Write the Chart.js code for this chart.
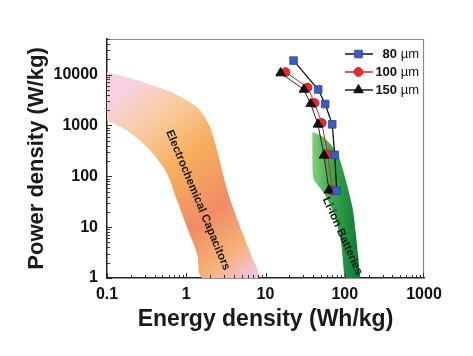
<!DOCTYPE html>
<html><head><meta charset="utf-8">
<script src="https://cdn.jsdelivr.net/npm/chart.js@4"></script>
<style>html,body{margin:0;padding:0;background:#fff}#wrap{width:473px;height:356px}</style>
</head><body><div id="wrap"><canvas id="c" width="473" height="356"></canvas></div>
<script>
// ---- tick labels ----
const xTickValues = [0.1, 1, 10, 100, 1000];
const yTickValues = [1, 10, 100, 1000, 10000];

// ---- measured series ----
const seriesLabels = ['80 µm', '100 µm', '150 µm'];
const energy80 = [22.6, 46.2, 56.6, 69.5, 74.7, 79.2];
const power80 = [18800, 5080, 2640, 1050, 264, 52];
const energy100 = [17.9, 34, 41.7, 51.2, 61, 69.5];
const power100 = [11200, 5560, 2760, 1120, 270, 53];
const energy150 = [15.5, 30.5, 37.2, 45.9, 54.7, 63.2];
const power150 = [10700, 5080, 2660, 1050, 258, 53];

// ---- region outlines (Ragone zones) ----
const capUpperE = [0.1, 0.215, 0.57, 1.02, 1.5, 2.0, 2.45, 2.97, 3.6, 4.8, 6.5, 8.0];
const capUpperP = [11100, 8200, 4850, 3100, 1970, 930, 320, 97, 34, 10, 3.0, 1];
const capLowerE = [0.1, 0.177, 0.35, 0.57, 0.76, 1.02, 1.37, 1.6];
const capLowerP = [1250, 800, 324, 113, 34, 10, 3.0, 1];
const liRightE = [39, 54, 81, 103, 125, 138, 152, 155];
const liRightP = [740, 590, 279, 84, 25, 7.5, 1.66, 1];
const liLeftE = [39, 39.5, 41, 55, 73, 89, 98, 100];
const liLeftP = [206, 110, 84, 46, 18.6, 5.6, 1.24, 1];

const regionLabels = ['Electrochemical Capacitors', 'Li-ion Batteries'];
const regionLabelE = [1.4, 93.5];
const regionLabelP = [34, 6.7];

const FONT = "'Liberation Sans', Arial, sans-serif";

function pts(es, ps) { return es.map((e, i) => ({x: e, y: ps[i]})); }
function polygon(upE, upP, loE, loP) {
  return pts(upE, upP).concat(pts(loE.slice().reverse(), loP.slice().reverse()));
}

function capGradient(ctx) {
  const ch = ctx.chart; if (!ch.chartArea) return '#f6b062';
  const xs = ch.scales.x, ys = ch.scales.y;
  const g = ch.ctx.createLinearGradient(xs.getPixelForValue(0.1), ys.getPixelForValue(3000),
                                        xs.getPixelForValue(6), ys.getPixelForValue(1));
  g.addColorStop(0, '#f6d2e4');
  g.addColorStop(0.2, '#f9cba0');
  g.addColorStop(0.42, '#f6ad5c');
  g.addColorStop(0.68, '#f08c66');
  g.addColorStop(0.86, '#f5b076');
  g.addColorStop(1, '#f3c2d6');
  return g;
}
function liGradient(ctx) {
  const ch = ctx.chart; if (!ch.chartArea) return '#3a9a48';
  const xs = ch.scales.x;
  const g = ch.ctx.createLinearGradient(xs.getPixelForValue(39), 0, xs.getPixelForValue(150), 0);
  g.addColorStop(0, '#86cf7e');
  g.addColorStop(0.4, '#3ea84c');
  g.addColorStop(1, '#0c7c34');
  return g;
}

const styles = [
  {color: '#3b5cc0', border: '#2a4598', shape: 'rect', r: 5.4, line: '#111', lw: 1.3},
  {color: '#e52a2a', border: '#b01818', shape: 'circle', r: 4.4, line: '#d22', lw: 1},
  {color: '#111111', border: '#000', shape: 'triangle', r: 5.6, line: '#222', lw: 1}
];

function seriesDataset(i, es, ps, order) {
  const s = styles[i];
  return {
    label: seriesLabels[i], data: pts(es, ps), showLine: true,
    borderColor: s.line, borderWidth: s.lw,
    pointStyle: s.shape, pointRadius: s.r, pointHoverRadius: s.r,
    pointBackgroundColor: s.color, pointBorderColor: s.border, pointBorderWidth: 0.8,
    order: order, isSeries: true, styleIndex: i
  };
}

function drawMarker(ctx, shape, x, y, r, fill, stroke) {
  ctx.beginPath();
  if (shape === 'rect') { const h = Math.SQRT1_2 * r; ctx.rect(x - h, y - h, 2 * h, 2 * h); }
  else if (shape === 'circle') { ctx.arc(x, y, r, 0, Math.PI * 2); }
  else {
    ctx.moveTo(x, y - r); ctx.lineTo(x + r * Math.sin(Math.PI/3), y + r/2); ctx.lineTo(x - r * Math.sin(Math.PI/3), y + r/2); ctx.closePath(); }
  ctx.fillStyle = fill; ctx.fill();
  ctx.lineWidth = 0.8; ctx.strokeStyle = stroke; ctx.stroke();
}

const decorPlugin = {
  id: 'decor',
  afterDatasetsDraw(chart) {
    const {ctx, scales: {x, y}} = chart;
    ctx.save();
    ctx.fillStyle = '#1a1a1a';
    ctx.font = 'bold 11.5px ' + FONT;
    ctx.textAlign = 'center'; ctx.textBaseline = 'middle';
    const angles = [67.4, 66];
    regionLabels.forEach((t, i) => {
      ctx.save();
      ctx.translate(x.getPixelForValue(regionLabelE[i]), y.getPixelForValue(regionLabelP[i]));
      ctx.rotate(angles[i] * Math.PI / 180);
      ctx.fillText(t, 0, 0);
      ctx.restore();
    });
    ctx.restore();
  },
  afterDraw(chart) {
    const {ctx, chartArea: {left, right, top, bottom}, scales: {x, y}} = chart;
    ctx.save();
    // top & right frame
    ctx.strokeStyle = '#8a8a8a'; ctx.lineWidth = 1.2;
    ctx.beginPath();
    ctx.moveTo(left, top + 0.5); ctx.lineTo(right - 0.5, top + 0.5); ctx.lineTo(right - 0.5, bottom);
    ctx.stroke();
    // inward ticks
    ctx.strokeStyle = '#333'; ctx.lineWidth = 1;
    ctx.beginPath();
    for (let d = 0.1; d < 1000; d *= 10) {
      for (let m = 1; m <= 9; m++) {
        const v = d * m; const px = Math.round(x.getPixelForValue(v)) + 0.5;
        const len = m === 1 ? 5 : 3;
        ctx.moveTo(px, bottom); ctx.lineTo(px, bottom - len);
      }
    }
    { const px = Math.round(x.getPixelForValue(1000)) - 0.5; ctx.moveTo(px, bottom); ctx.lineTo(px, bottom - 5); }
    for (let d = 1; d <= 10000; d *= 10) {
      for (let m = 1; m <= 9; m++) {
        const v = d * m; if (v > y.max) break;
        const py = Math.round(y.getPixelForValue(v)) + 0.5;
        const len = m === 1 ? 5 : 3;
        ctx.moveTo(left, py); ctx.lineTo(left + len, py);
      }
    }
    ctx.stroke();
    // legend: line + marker + label
    const rowY = [top + 15, top + 33, top + 51];
    const lineX0 = right - 79, lineX1 = right - 51, markX = right - 65.5;
    const textR = right - 5;
    chart.data.datasets.filter(d => d.isSeries).forEach(ds => {
      const i = ds.styleIndex; const s = styles[i]; const yy = rowY[i];
      ctx.strokeStyle = s.line; ctx.lineWidth = 1.5;
      ctx.beginPath(); ctx.moveTo(lineX0, yy); ctx.lineTo(lineX1, yy); ctx.stroke();
      drawMarker(ctx, s.shape, markX, yy, s.r, s.color, s.border);
      const parts = ds.label.split(' ');
      ctx.textBaseline = 'middle'; ctx.textAlign = 'right'; ctx.fillStyle = '#111';
      ctx.font = '13px ' + FONT;
      const uw = ctx.measureText(' ' + parts[1]).width;
      ctx.fillText(' ' + parts[1], textR, yy);
      ctx.font = 'bold 13px ' + FONT;
      ctx.fillText(parts[0], textR - uw, yy);
    });
    ctx.restore();
  }
};

new Chart(document.getElementById('c'), {
  type: 'scatter',
  data: {
    datasets: [
      seriesDataset(0, energy80, power80, 1),
      seriesDataset(2, energy150, power150, 2),
      seriesDataset(1, energy100, power100, 3),
      {label: 'Li-ion Batteries', data: polygon(liRightE, liRightP, liLeftE, liLeftP), showLine: true,
       fill: 'shape', backgroundColor: liGradient, borderWidth: 0, pointRadius: 0, order: 8, tension: 0.2},
      {label: 'Electrochemical Capacitors', data: polygon(capUpperE, capUpperP, capLowerE, capLowerP), showLine: true,
       fill: 'shape', backgroundColor: capGradient, borderWidth: 0, pointRadius: 0, order: 9, tension: 0.3}
    ]
  },
  options: {
    responsive: false, animation: false, devicePixelRatio: 1,
    layout: {padding: {left: 0, top: 39, right: 49, bottom: 0}},
    plugins: {legend: {display: false}, tooltip: {enabled: false}},
    scales: {
      x: {
        type: 'logarithmic', min: 0.1, max: 1000,
        afterFit(s) { s.height = 78; },
        afterBuildTicks(s) { s.ticks = xTickValues.map(v => ({value: v})); },
        grid: {drawOnChartArea: false, drawTicks: false},
        border: {display: true, color: '#222', width: 1.5},
        ticks: {padding: 7, color: '#111', font: {family: FONT, size: 16, weight: 'bold'},
                autoSkip: false, maxRotation: 0, callback: v => String(v)},
        title: {display: true, text: 'Energy density (Wh/kg)', color: '#1a1a1a',
                font: {family: FONT, size: 23, weight: 'bold'}, padding: {top: 0, bottom: 23}}
      },
      y: {
        type: 'logarithmic', min: 1, max: 50000,
        afterFit(s) { s.width = 107; },
        afterBuildTicks(s) { s.ticks = yTickValues.map(v => ({value: v})); },
        grid: {drawOnChartArea: false, drawTicks: false},
        border: {display: true, color: '#222', width: 1.5},
        ticks: {padding: 9, color: '#111', font: {family: FONT, size: 16, weight: 'bold'},
                autoSkip: false, callback: v => String(v)},
        title: {display: true, text: 'Power density (W/kg)', color: '#1a1a1a',
                font: {family: FONT, size: 22, weight: 'bold'}, padding: {top: 24, bottom: 0}}
      }
    }
  },
  plugins: [decorPlugin]
});
</script></body></html>
